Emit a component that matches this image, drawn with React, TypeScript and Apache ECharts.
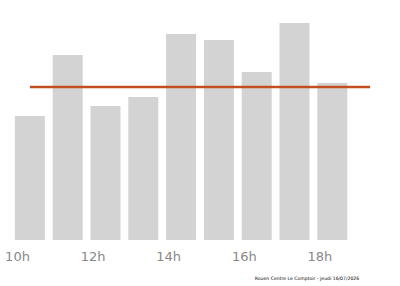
import React, { useEffect, useRef } from "react";
import * as echarts from "echarts";

const hours = ["10h", "11h", "12h", "13h", "14h", "15h", "16h", "17h", "18h", "19h"];
const visits = [124, 185, 134, 143, 206, 200, 168, 217, 157, 0];
const average = [153, 153, 153, 153, 153, 153, 153, 153, 153, 153];
const caption = "Rouen Centre Le Comptoir - jeudi 16/07/2026";

export default function App() {
  const ref = useRef<HTMLDivElement>(null);
  useEffect(() => {
    if (!ref.current) return;
    const chart = echarts.init(ref.current, undefined, { renderer: "svg" });
    chart.setOption({
      animation: false,
      backgroundColor: "#ffffff",
      grid: { left: 11, right: 11, top: 0, bottom: 46 },
      xAxis: {
        type: "category",
        data: hours,
        axisLine: { show: false },
        axisTick: { show: false },
        axisLabel: {
          interval: 1,
          align: "right",
          color: "#888888",
          fontSize: 13,
          fontFamily: "DejaVu Sans",
          margin: 10,
        },
      },
      yAxis: {
        type: "value",
        min: 0,
        max: 240,
        show: false,
        splitLine: { show: false },
      },
      series: [
        {
          type: "bar",
          data: visits,
          barWidth: 30,
          itemStyle: { color: "#d3d3d3" },
        },
        {
          type: "line",
          data: average,
          symbol: "none",
          lineStyle: { color: "#c2501e", width: 2.5 },
          z: 5,
        },
      ],
      graphic: [
        {
          type: "text",
          x: 307,
          y: 278,
          style: {
            text: caption,
            fontSize: 4.6,
            fill: "#000000",
            align: "center",
            verticalAlign: "middle",
            fontFamily: "DejaVu Sans",
          },
        },
      ],
    });
    return () => chart.dispose();
  }, []);
  return <div ref={ref} style={{ width: 400, height: 286, position: "absolute", left: 0, top: 0 }} />;
}
